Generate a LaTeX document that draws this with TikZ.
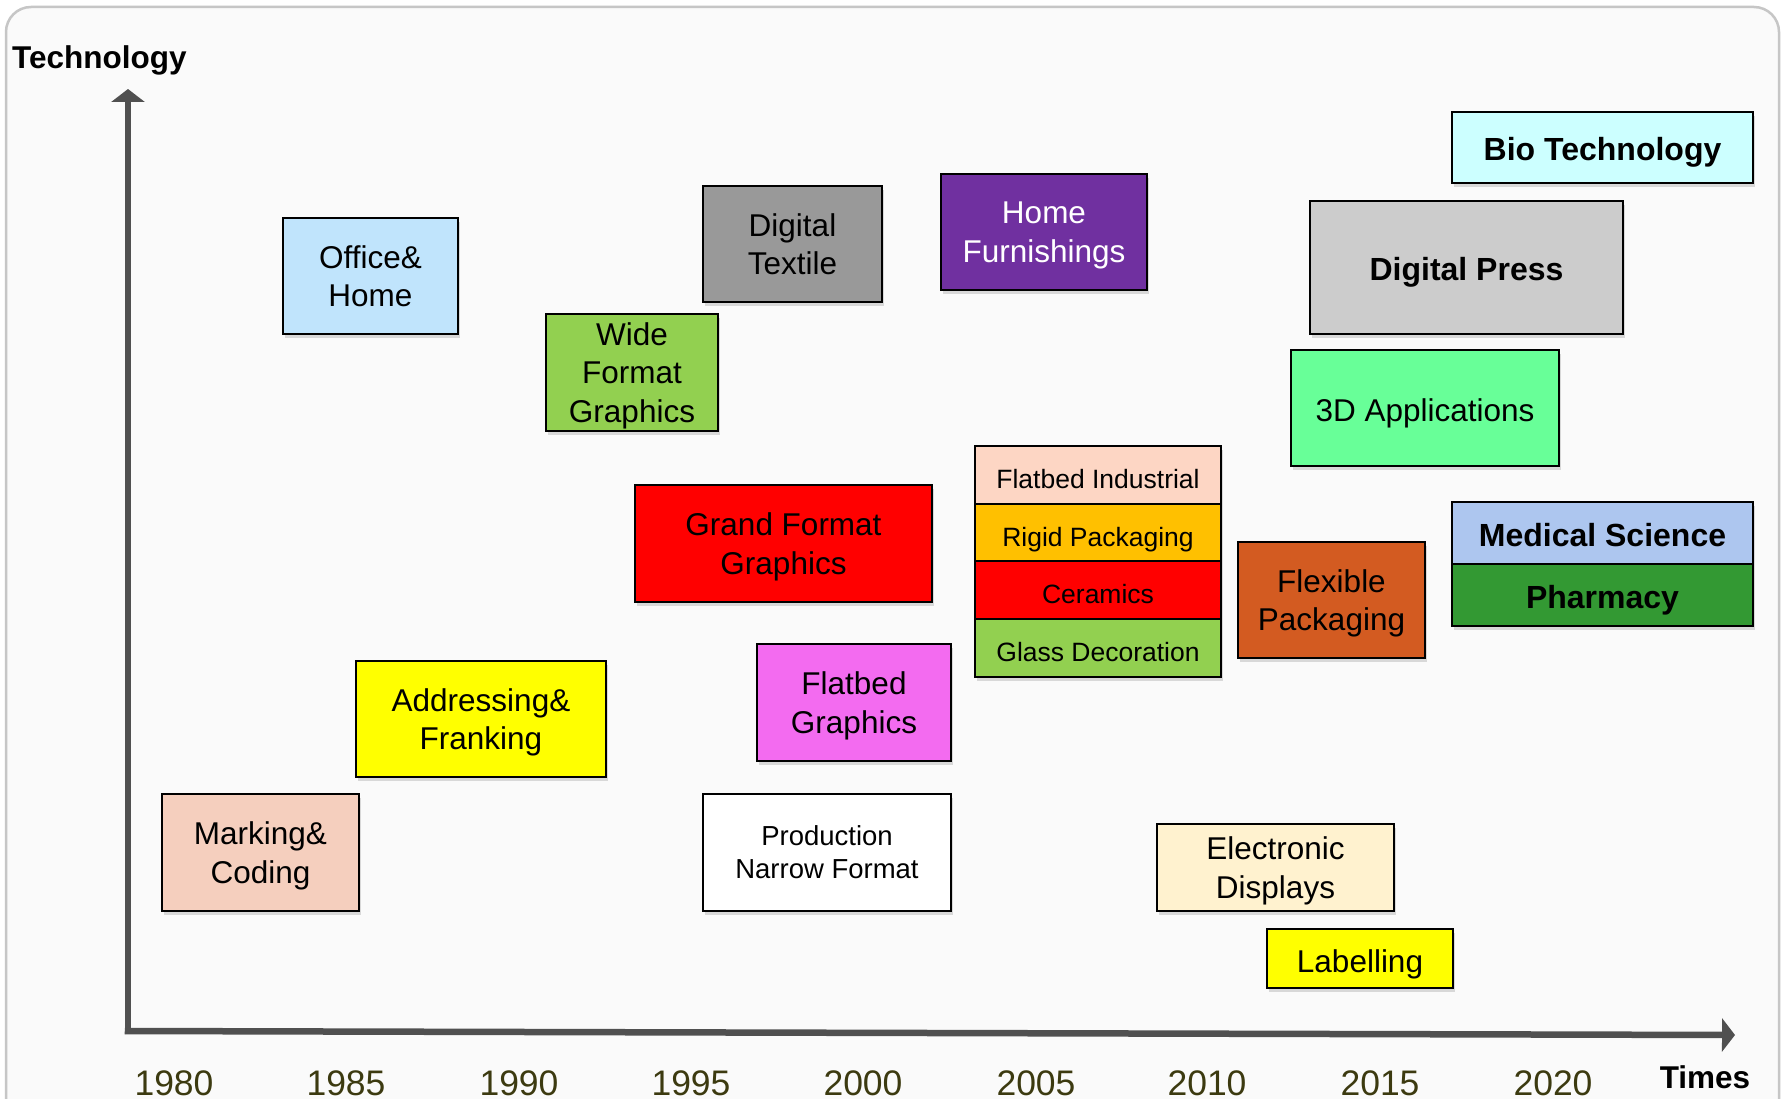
\documentclass[tikz,border=0pt]{standalone}
\usepackage{fontspec}
\setmainfont{Liberation Sans}
\usetikzlibrary{arrows.meta,shadows}
\definecolor{frameBg}{HTML}{FAFAFA}
\definecolor{frameLine}{HTML}{C6C6C6}
\definecolor{axisGray}{HTML}{505050}
\definecolor{yearCol}{HTML}{3C3A10}
\definecolor{cOffice}{HTML}{C0E4FC}
\definecolor{cWide}{HTML}{92D050}
\definecolor{cTextile}{HTML}{999999}
\definecolor{cHomeF}{HTML}{7030A0}
\definecolor{cBio}{HTML}{CCFFFF}
\definecolor{cPress}{HTML}{CCCCCC}
\definecolor{cThreeD}{HTML}{68FF98}
\definecolor{cGrand}{HTML}{FF0000}
\definecolor{cFlatInd}{HTML}{FDD6C4}
\definecolor{cRigid}{HTML}{FFC000}
\definecolor{cCeram}{HTML}{FF0000}
\definecolor{cGlass}{HTML}{92D050}
\definecolor{cFlex}{HTML}{D35B21}
\definecolor{cMed}{HTML}{ADC6EF}
\definecolor{cPharm}{HTML}{339933}
\definecolor{cAddr}{HTML}{FFFF00}
\definecolor{cFlatG}{HTML}{F36BF0}
\definecolor{cMark}{HTML}{F5CFBE}
\definecolor{cProd}{HTML}{FFFFFF}
\definecolor{cElec}{HTML}{FFF2CF}
\definecolor{cLabel}{HTML}{FFFF00}
\begin{document}
\begin{tikzpicture}[x=1pt,y=-1pt,
  box/.style={draw=black, line width=1.8pt, inner sep=0pt, align=center,
    text depth=0pt,
    drop shadow={shadow xshift=1.5pt, shadow yshift=-4pt, opacity=0.28},
    execute at begin node={\rule{0pt}{27pt}},
    font=\fontsize{31.5}{38.6}\selectfont},
  boldbox/.style={box, execute at begin node={\rule{0pt}{25pt}}, font=\fontsize{32}{38}\bfseries\selectfont},
  smallbox/.style={box, execute at begin node={\rule{0pt}{23.5pt}}, font=\fontsize{26.5}{32}\selectfont},
  prodbox/.style={box, execute at begin node={\rule{0pt}{24pt}}, font=\fontsize{27.5}{33}\selectfont},
  axis/.style={draw=axisGray, line width=6.5pt, -{Triangle[length=13pt,width=33pt]}},
  year/.style={anchor=base, text=yearCol, font=\fontsize{35.5}{40}\selectfont, inner sep=0pt},
  axlabel/.style={inner sep=0pt, font=\fontsize{31.5}{36}\bfseries\selectfont}]
\useasboundingbox (0,0) rectangle (1781,1099);
\begin{scope}
  \clip (0,0) rectangle (1781,1099);
  \fill[white] (0,0) rectangle (1781,1099);
  \draw[draw=frameLine, fill=frameBg, line width=2.5pt, rounded corners=25pt] (6,7) rectangle (1779,1160);
\end{scope}

% axes
\coordinate (O) at (128,1031);
\coordinate (ytip) at (128,89);
\coordinate (xtip) at (1735,1035);
\coordinate (xstart) at (124.75,1031);
\draw[axis] (128,1034.25) -- (ytip);
\draw[axis] (xstart) -- (xtip);

\node[axlabel, anchor=base west] (tech) at (12,69) {Technology};
\node[axlabel, anchor=base] (times) at (1705,1088) {Times};

% years
\node[year] (y1980) at (174,1095) {1980};
\node[year] (y1985) at (346,1095) {1985};
\node[year] (y1990) at (519,1095) {1990};
\node[year] (y1995) at (691,1095) {1995};
\node[year] (y2000) at (863,1095) {2000};
\node[year] (y2005) at (1036,1095) {2005};
\node[year] (y2010) at (1207,1095) {2010};
\node[year] (y2015) at (1380,1095) {2015};
\node[year] (y2020) at (1553,1095) {2020};

% boxes
\node[box, fill=cOffice, minimum width=175pt, minimum height=116pt] (office) at (370.5,276) {Office\&\\Home};
\node[box, fill=cWide, minimum width=172pt, minimum height=117pt] (wide) at (632,372.5) {Wide\\Format\\Graphics};
\node[box, fill=cTextile, minimum width=179pt, minimum height=116pt] (textile) at (792.5,244) {Digital\\Textile};
\node[box, fill=cHomeF, text=white, minimum width=206pt, minimum height=116pt] (homef) at (1044,232) {Home\\Furnishings};
\node[boldbox, fill=cBio, minimum width=301pt, minimum height=71pt] (bio) at (1602.5,147.5) {Bio Technology};
\node[boldbox, fill=cPress, minimum width=313pt, minimum height=133pt] (press) at (1466.5,267.5) {Digital Press};
\node[box, fill=cThreeD, minimum width=268pt, minimum height=116pt] (threed) at (1425,408) {3D Applications};
\node[box, fill=cGrand, minimum width=297pt, minimum height=117pt] (grand) at (783.5,543.5) {Grand Format\\Graphics};

\node[smallbox, fill=cFlatInd, minimum width=246pt, minimum height=58pt] (flatind) at (1098,475) {Flatbed Industrial};
\node[smallbox, fill=cRigid, minimum width=246pt, minimum height=57pt] (rigid) at (1098,532.5) {Rigid Packaging};
\node[smallbox, fill=cCeram, minimum width=246pt, minimum height=58pt] (ceram) at (1098,590) {Ceramics};
\node[smallbox, fill=cGlass, minimum width=246pt, minimum height=58pt] (glass) at (1098,648) {Glass Decoration};

\node[box, fill=cFlex, minimum width=187pt, minimum height=116pt] (flex) at (1331.5,600) {Flexible\\Packaging};
\node[boldbox, fill=cMed, minimum width=301pt, minimum height=62pt] (med) at (1602.5,533) {Medical Science};
\node[boldbox, fill=cPharm, minimum width=301pt, minimum height=62pt] (pharm) at (1602.5,595) {Pharmacy};

\node[box, fill=cAddr, minimum width=250pt, minimum height=116pt] (addr) at (481,719) {Addressing\&\\Franking};
\node[box, fill=cFlatG, minimum width=194pt, minimum height=117pt] (flatg) at (854,702.5) {Flatbed\\Graphics};
\node[box, fill=cMark, minimum width=197pt, minimum height=117pt] (mark) at (260.5,852.5) {Marking\&\\Coding};
\node[prodbox, fill=cProd, minimum width=248pt, minimum height=117pt] (prod) at (827,852.5) {Production\\Narrow Format};
\node[box, fill=cElec, minimum width=237pt, minimum height=87pt] (elec) at (1275.5,867.5) {Electronic\\Displays};
\node[box, fill=cLabel, minimum width=186pt, minimum height=59pt] (label) at (1360,958.5) {Labelling};
\end{tikzpicture}
\end{document}
